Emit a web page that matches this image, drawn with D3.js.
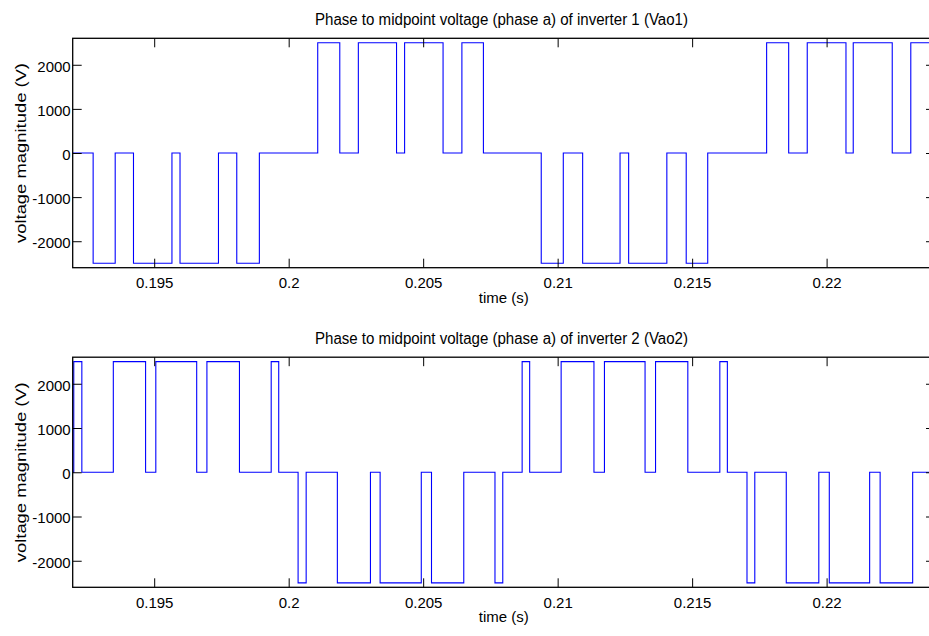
<!DOCTYPE html>
<meta charset="utf-8">
<script src="https://d3js.org/d3.v7.min.js"></script>
<style>
  body { margin: 0; background: #fff; }
  svg { display: block; }
  text { font-family: "Liberation Sans", Arial, sans-serif; fill: #000; }
</style>
<div id="chart"></div>
<script>

// switching instants (s) and the level (V) the signal takes from that instant on
var vao1Times  = [0.19197, 0.19273, 0.19355, 0.19423, 0.19566, 0.19596, 0.19739, 0.19807, 0.19891,
                  0.20108, 0.20190, 0.20259, 0.20401, 0.20431, 0.20574, 0.20644, 0.20724,
                  0.20939, 0.21021, 0.21093, 0.21232, 0.21264, 0.21406, 0.21478, 0.21558,
                  0.21777, 0.21859, 0.21928, 0.22072, 0.22099, 0.22244, 0.22313, 0.22403];
var vao1Levels = [0, -2500, 0, -2500, 0, -2500, 0, -2500, 0,
                  2500, 0, 2500, 0, 2500, 0, 2500, 0,
                  -2500, 0, -2500, 0, -2500, 0, -2500, 0,
                  2500, 0, 2500, 0, 2500, 0, 2500, 2500];

var vao2Times  = [0.19197, 0.19201, 0.19231, 0.19348, 0.19468, 0.19506, 0.19658, 0.19696, 0.19817, 0.19935, 0.19963,
                  0.20035, 0.20065, 0.20181, 0.20304, 0.20340, 0.20493, 0.20531, 0.20651, 0.20767, 0.20796,
                  0.20868, 0.20896, 0.21013, 0.21135, 0.21174, 0.21325, 0.21364, 0.21484, 0.21603, 0.21631,
                  0.21704, 0.21733, 0.21850, 0.21971, 0.22010, 0.22160, 0.22199, 0.22320, 0.22403];
var vao2Levels = [0, 2500, 0, 2500, 0, 2500, 0, 2500, 0, 2500, 0,
                  -2500, 0, -2500, 0, -2500, 0, -2500, 0, -2500, 0,
                  2500, 0, 2500, 0, 2500, 0, 2500, 0, 2500, 0,
                  -2500, 0, -2500, 0, -2500, 0, -2500, 0, 0];

var xTicks = [0.195, 0.2, 0.205, 0.21, 0.215, 0.22];
var yTicks = [-2000, -1000, 0, 1000, 2000];
var titles = ["Phase to midpoint voltage (phase a) of inverter 1 (Vao1)",
              "Phase to midpoint voltage (phase a) of inverter 2 (Vao2)"];

var width = 929, height = 636;

var svg = d3.select("#chart").append("svg")
  .attr("width", width)
  .attr("height", height);

// shared time axis, the box runs a little past the right edge of the picture
var x = d3.scaleLinear()
  .domain([0.19197, 0.22403])
  .range([72.7, 935]);

var panels = [
  {times: vao1Times, levels: vao1Levels, title: titles[0], top: 38.3, bottom: 267.7},
  {times: vao2Times, levels: vao2Levels, title: titles[1], top: 357.2, bottom: 587.3}
];

panels.forEach(function(p) {
  var y = d3.scaleLinear()
    .domain([-2600, 2600])
    .range([p.bottom, p.top]);

  var g = svg.append("g");

  var clipId = "clip" + p.top;
  g.append("clipPath").attr("id", clipId)
    .append("rect")
      .attr("x", x.range()[0]).attr("y", p.top)
      .attr("width", x.range()[1] - x.range()[0])
      .attr("height", p.bottom - p.top);

  var pts = p.times.map(function(t, i) { return [t, p.levels[i]]; });

  var line = d3.line()
    .x(function(d) { return x(d[0]); })
    .y(function(d) { return y(d[1]); })
    .curve(d3.curveStepAfter);

  g.append("path")
    .datum(pts)
    .attr("clip-path", "url(#" + clipId + ")")
    .attr("d", line)
    .attr("fill", "none")
    .attr("stroke", "#0000ff")
    .attr("stroke-width", 1.1);

  // ticks on all four sides (box on)
  var bottomAxis = g.append("g")
    .attr("transform", "translate(0," + p.bottom + ")")
    .call(d3.axisBottom(x).tickValues(xTicks).tickSize(-9).tickPadding(10)
      .tickFormat(function(d) { return String(+d.toFixed(3)); }));

  var topAxis = g.append("g")
    .attr("transform", "translate(0," + p.top + ")")
    .call(d3.axisTop(x).tickValues(xTicks).tickSize(-9).tickFormat(""));

  var leftAxis = g.append("g")
    .attr("transform", "translate(" + x.range()[0] + ",0)")
    .call(d3.axisLeft(y).tickValues(yTicks).tickSize(-9).tickPadding(2)
      .tickFormat(function(d) { return String(d); }));

  var rightAxis = g.append("g")
    .attr("transform", "translate(" + x.range()[1] + ",0)")
    .call(d3.axisRight(y).tickValues(yTicks).tickSize(-9).tickFormat(""));

  [bottomAxis, topAxis, leftAxis, rightAxis].forEach(function(a) {
    a.select(".domain").remove();
    a.selectAll("line").attr("stroke", "#000").attr("stroke-width", 1);
    a.selectAll("text").attr("font-size", "15px").attr("fill", "#000")
      .style("font-family", "'Liberation Sans', Arial, sans-serif");
  });
  leftAxis.selectAll("text").attr("dy", "0.42em");

  // axes box
  g.append("rect")
    .attr("x", x.range()[0]).attr("y", p.top)
    .attr("width", x.range()[1] - x.range()[0])
    .attr("height", p.bottom - p.top)
    .attr("fill", "none")
    .attr("stroke", "#000")
    .attr("stroke-width", 1.3);

  g.append("text")
    .attr("x", 501.5)
    .attr("y", p.top - 13.3)
    .attr("text-anchor", "middle")
    .attr("font-size", "16px")
    .attr("textLength", 373)
    .attr("lengthAdjust", "spacingAndGlyphs")
    .text(p.title);

  g.append("text")
    .attr("x", (x.range()[0] + x.range()[1]) / 2)
    .attr("y", p.bottom + 35)
    .attr("text-anchor", "middle")
    .attr("font-size", "15px")
    .text("time (s)");

  g.append("text")
    .attr("transform", "translate(26," + y(0) + ") rotate(-90)")
    .attr("text-anchor", "middle")
    .attr("font-size", "14.5px")
    .attr("textLength", 180)
    .attr("lengthAdjust", "spacingAndGlyphs")
    .text("voltage magnitude (V)");
});

</script>
